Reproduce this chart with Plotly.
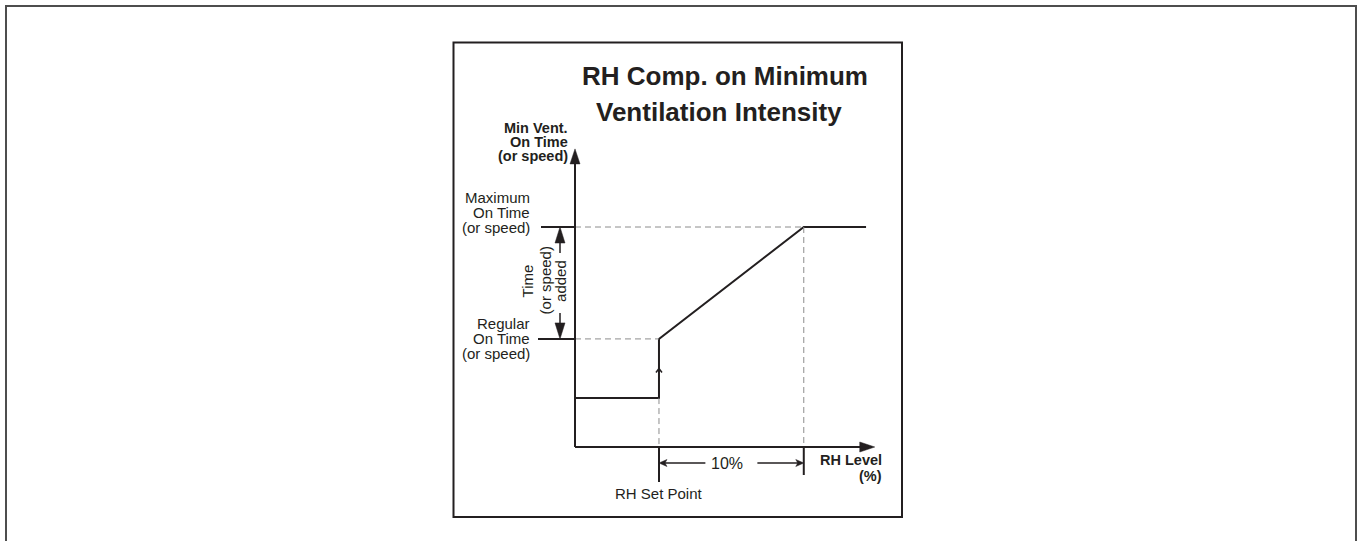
import plotly.graph_objects as go

# ---- values -------------------------------------------------------------
# Relative humidity axis (% RH)
rh_origin = 54.2          # where the on-time axis stands
rh_set_point = 60.0       # RH set point
rh_band = 10.0            # compensation band above the set point
rh_curve_end = 74.3       # last point of the response curve
rh_axis_end = 74.9        # tip of the RH axis arrow

# Minimum ventilation on-time (or speed), arbitrary percent scale
on_time_low = 17.8
on_time_regular = 39.3
on_time_maximum = 80.0
on_time_axis_top = 108.4

curve_rh = [rh_origin, rh_set_point, rh_set_point, rh_set_point + rh_band, rh_curve_end]
curve_on = [on_time_low, on_time_low, on_time_regular, on_time_maximum, on_time_maximum]

title_lines = ["RH Comp. on Minimum", "Ventilation Intensity"]
y_title_lines = ["Min Vent.", "On Time", "(or speed)"]
max_label_lines = ["Maximum", "On Time", "(or speed)"]
regular_label_lines = ["Regular", "On Time", "(or speed)"]
added_label_lines = ["Time", "(or speed)", "added"]
x_title_lines = ["RH Level", "(%)"]
set_point_label = "RH Set Point"
band_label = "10%"

# ---- page geometry ------------------------------------------------------
W, H = 1358, 541
ORIGIN_PX = (575, 447)      # pixel position of the axes corner
X_SCALE = 14.48             # px per % RH
Y_SCALE = 2.75              # px per on-time unit

x_range = [rh_origin - ORIGIN_PX[0] / X_SCALE, rh_origin + (W - ORIGIN_PX[0]) / X_SCALE]
y_range = [-(H - ORIGIN_PX[1]) / Y_SCALE, ORIGIN_PX[1] / Y_SCALE]

INK = "#231f20"
GUIDE = "#8c8c8c"
FONT = "Liberation Sans, Arial, sans-serif"


def dx(px):
    return px / X_SCALE


def dy(px):
    return px / Y_SCALE


def px_x(px):
    return px / W


def px_y(py):
    return 1 - py / H


shapes = []


def seg(x0, y0, x1, y1, width=2, color=INK, dash=None):
    line = dict(color=color, width=width)
    if dash:
        line["dash"] = dash
    shapes.append(dict(type="line", xref="x", yref="y", x0=x0, y0=y0, x1=x1, y1=y1,
                       line=line, layer="above"))


def head(tx, ty, ux, uy, length=15, half=5, notch=0.0):
    """Filled arrowhead with its tip at (tx, ty); (ux, uy) is the pointing direction."""
    bx, by = -ux * length, -uy * length
    nx, ny = -uy, ux
    pts = [(0, 0), (bx + nx * half, by + ny * half)]
    if notch:
        pts.append((-ux * (length - notch), -uy * (length - notch)))
    pts.append((bx - nx * half, by - ny * half))
    path = "M " + " L ".join(f"{tx + dx(ox)},{ty + dy(oy)}" for ox, oy in pts) + " Z"
    shapes.append(dict(type="path", xref="x", yref="y", path=path,
                       fillcolor=INK, line=dict(color=INK, width=0.5), layer="above"))


# outer frame and inner panel
shapes.append(dict(type="rect", xref="paper", yref="paper",
                   x0=px_x(6), x1=px_x(1356), y0=px_y(6), y1=-0.05,
                   line=dict(color="#4d4d4d", width=2)))
shapes.append(dict(type="rect", xref="paper", yref="paper",
                   x0=px_x(453.5), x1=px_x(902), y0=px_y(42.5), y1=px_y(517),
                   line=dict(color=INK, width=2)))

# dashed guides
seg(rh_origin, on_time_maximum, rh_set_point + rh_band, on_time_maximum, 1, GUIDE, "6px,4px")
seg(rh_origin, on_time_regular, rh_set_point, on_time_regular, 1, GUIDE, "6px,4px")
seg(rh_set_point, on_time_low, rh_set_point, 0, 1, GUIDE, "6px,4px")
seg(rh_set_point + rh_band, on_time_maximum, rh_set_point + rh_band, 0, 1, GUIDE, "6px,4px")

# axes with arrow tips
seg(rh_origin, 0, rh_origin, on_time_axis_top - dy(12))
head(rh_origin, on_time_axis_top, 0, 1)
seg(rh_origin, 0, rh_axis_end - dx(12), 0)
head(rh_axis_end, 0, 1, 0)

# level ticks on the on-time axis
seg(rh_origin - dx(34), on_time_maximum, rh_origin, on_time_maximum)
seg(rh_origin - dx(37), on_time_regular, rh_origin, on_time_regular)

# ticks below the RH axis
seg(rh_set_point, 0, rh_set_point, -dy(35))
seg(rh_set_point + rh_band, 0, rh_set_point + rh_band, -dy(28))

# 10 % band dimension arrows
band_y = -dy(16)
band_mid = rh_set_point + rh_band / 2
seg(rh_set_point + dx(5), band_y, band_mid - dx(26), band_y, 1.5)
head(rh_set_point, band_y, -1, 0, length=8, half=3.5, notch=2)
seg(band_mid + dx(26), band_y, rh_set_point + rh_band - dx(5), band_y, 1.5)
head(rh_set_point + rh_band, band_y, 1, 0, length=8, half=3.5, notch=2)

# "time added" double arrow between regular and maximum levels
added_x = rh_origin - dx(15)
seg(added_x, on_time_maximum - dy(14), added_x, on_time_maximum - dy(26), 1.5)
head(added_x, on_time_maximum, 0, 1, length=16, half=5)
seg(added_x, on_time_regular + dy(14), added_x, on_time_regular + dy(26), 1.5)
head(added_x, on_time_regular, 0, -1, length=16, half=5)

# small direction mark on the step at the set point
step_mid = (on_time_low + on_time_regular) / 2
shapes.append(dict(type="path", xref="x", yref="y",
                   path=(f"M {rh_set_point - dx(3)},{step_mid - dy(4)} "
                         f"L {rh_set_point},{step_mid} "
                         f"L {rh_set_point + dx(3)},{step_mid - dy(4)}"),
                   line=dict(color=INK, width=1.5), layer="above"))

# ---- text ---------------------------------------------------------------
annotations = []


def label(text, x, y, xanchor="center", xshift=0, yshift=0, size=15, bold=False,
          xref="x", yref="y", angle=0):
    annotations.append(dict(
        text=f"<b>{text}</b>" if bold else text, x=x, y=y, xref=xref, yref=yref,
        xanchor=xanchor, yanchor="middle", xshift=xshift, yshift=yshift,
        showarrow=False, textangle=angle, borderpad=0,
        font=dict(family=FONT, size=size, color=INK)))


# title
label(title_lines[0], px_x(725), px_y(76), xref="paper", yref="paper", size=26, bold=True)
label(title_lines[1], px_x(719), px_y(112), xref="paper", yref="paper", size=26, bold=True)

# on-time axis title, stacked above the arrow tip
for i, t in enumerate(y_title_lines):
    label(t, rh_origin, on_time_axis_top, xanchor="right", xshift=-6,
          yshift=21 - 14 * i, size=14.5, bold=True)

# level labels
for i, t in enumerate(max_label_lines):
    label(t, rh_origin, on_time_maximum, xanchor="right", xshift=-44,
          yshift=30 - 15 * i)
for i, t in enumerate(regular_label_lines):
    label(t, rh_origin, on_time_regular, xanchor="right", xshift=-44,
          yshift=15 - 15 * i)

# rotated "time added" label
added_mid = (on_time_regular + on_time_maximum) / 2
for t, shift in zip(added_label_lines, (-47.5, -29.5, -14)):
    label(t, rh_origin, added_mid, xshift=shift, yshift=2, angle=-90)

# RH axis title
for i, t in enumerate(x_title_lines):
    label(t, rh_axis_end, 0, xanchor="right", xshift=8, yshift=-12.5 - 16 * i,
          size=14.5, bold=True)

label(set_point_label, rh_set_point, 0, yshift=-46)
label(band_label, band_mid, band_y, xshift=-4, size=16)

# ---- figure -------------------------------------------------------------
fig = go.Figure(go.Scatter(x=curve_rh, y=curve_on, mode="lines",
                           line=dict(color=INK, width=2), hoverinfo="skip"))
fig.update_layout(
    width=W, height=H, margin=dict(l=0, r=0, t=0, b=0),
    paper_bgcolor="white", plot_bgcolor="white", showlegend=False,
    xaxis=dict(range=x_range, visible=False, fixedrange=True),
    yaxis=dict(range=y_range, visible=False, fixedrange=True),
    shapes=shapes, annotations=annotations,
)
fig.write_html("out.html")
